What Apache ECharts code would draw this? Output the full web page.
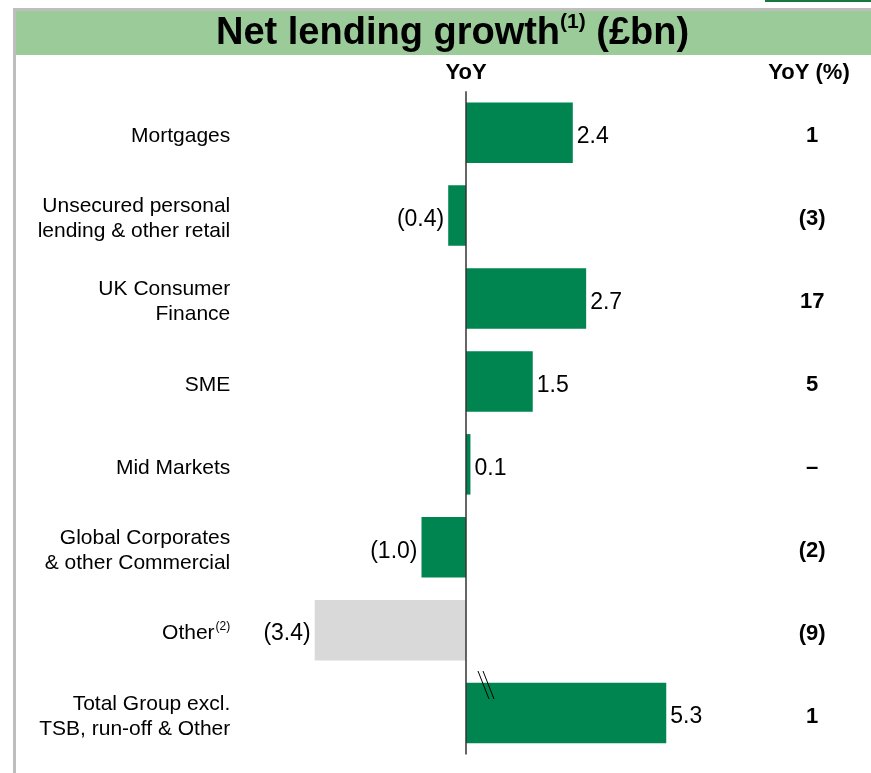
<!DOCTYPE html>
<html>
<head>
<meta charset="utf-8">
<script src="https://cdn.jsdelivr.net/npm/echarts@6/dist/echarts.min.js"></script>
<style>
html,body{margin:0;padding:0;background:#fff}
#chart{width:871px;height:773px}
</style>
</head>
<body>
<div id="chart"></div>
<script>
// data
var categories = ['Mortgages', 'Unsecured personal\nlending & other retail', 'UK Consumer\nFinance', 'SME',
    'Mid Markets', 'Global Corporates\n& other Commercial', 'Other', 'Total Group excl.\nTSB, run-off & Other'];
var yoyValues = [2.4, -0.4, 2.7, 1.5, 0.1, -1.0, -3.4, 5.3];
var yoyPct = ['1', '(3)', '17', '5', '–', '(2)', '(9)', '1'];
var greyCats = ['Other'];

var FONT = '"Liberation Sans", Arial, sans-serif';
var GREEN = '#008551';

var barData = [];
for (var i = 0; i < yoyValues.length; i++) {
    var v = yoyValues[i];
    barData.push({
        value: v,
        itemStyle: {color: greyCats.indexOf(categories[i]) >= 0 ? '#D9D9D9' : GREEN},
        label: {position: v < 0 ? 'left' : 'right'}
    });
}

var chart = echarts.init(document.getElementById('chart'));
chart.setOption({
    animation: false,
    grid: {left: 310.25, right: 195.85, top: 91.25, bottom: 18.5},
    xAxis: {
        type: 'value',
        min: -3.5,
        max: 5.5,
        breaks: [{start: 3, end: 3.8, gap: 0}],
        breakArea: {show: false},
        axisLine: {show: false},
        axisTick: {show: false},
        axisLabel: {show: false},
        splitLine: {show: false}
    },
    yAxis: [{
        type: 'category',
        inverse: true,
        data: categories,
        axisLine: {show: false, onZero: false},
        axisTick: {show: false},
        axisLabel: {
            margin: 80,
            color: '#000',
            fontFamily: FONT,
            fontSize: 21,
            lineHeight: 25,
            padding: [7, 0, 0, 0],
            formatter: function (val) {
                if (val === 'Other') return '{a|Other}{s|(2)}';
                return val;
            },
            rich: {
                a: {fontFamily: FONT, fontSize: 21, lineHeight: 25, color: '#000'},
                s: {fontFamily: FONT, fontSize: 12, lineHeight: 25, verticalAlign: 'top', padding: [0, 0, 8, 1], color: '#000'}
            }
        }
    }, {
        type: 'category',
        inverse: true,
        position: 'right',
        data: yoyPct,
        axisLine: {show: false, onZero: false},
        axisTick: {show: false},
        axisLabel: {
            margin: 137,
            align: 'center',
            formatter: function (val) {
                return '{v|' + val + '}';
            },
            rich: {
                v: {fontFamily: FONT, fontWeight: 'bold', fontSize: 22, lineHeight: 26, padding: [7, 0, 0, 0], color: '#000'}
            }
        }
    }],
    series: [{
        type: 'bar',
        data: barData,
        barCategoryGap: '27%',
        label: {
            show: true,
            distance: 4,
            offset: [0, 4],
            color: '#000',
            fontFamily: FONT,
            fontSize: 23,
            formatter: function (p) {
                var n = p.value;
                return n < 0 ? '(' + Math.abs(n).toFixed(1) + ')' : n.toFixed(1);
            }
        },
        markLine: {
            silent: true,
            symbol: 'none',
            label: {show: false},
            lineStyle: {color: '#333', width: 1.5, type: 'solid'},
            data: [{xAxis: 0}]
        }
    }],
    graphic: [
        {type: 'rect', shape: {x: 765, y: 0, width: 106, height: 2}, style: {fill: '#17773F'}},
        {type: 'rect', shape: {x: 13, y: 8, width: 858, height: 3}, style: {fill: '#BEBEBE'}},
        {type: 'rect', shape: {x: 13, y: 8, width: 3, height: 765}, style: {fill: '#BEBEBE'}},
        {type: 'rect', shape: {x: 16, y: 11, width: 855, height: 44}, style: {fill: '#9BCB98'}},
        {
            type: 'text', x: 216, y: 34,
            style: {
                text: '{a|Net lending growth}{s|(1)}{a| (£bn)}',
                textAlign: 'left', textVerticalAlign: 'middle',
                rich: {
                    a: {fontFamily: FONT, fontWeight: 'bold', fontSize: 38, lineHeight: 44, fill: '#000'},
                    s: {fontFamily: FONT, fontWeight: 'bold', fontSize: 21, lineHeight: 44, verticalAlign: 'top', padding: [0, 0, 14, 0], fill: '#000'}
                }
            }
        },
        {
            type: 'text', x: 466, y: 73,
            style: {text: 'YoY', font: 'bold 22px ' + FONT, fill: '#000', textAlign: 'center', textVerticalAlign: 'middle'}
        },
        {
            type: 'text', x: 809, y: 73,
            style: {text: 'YoY (%)', font: 'bold 22px ' + FONT, fill: '#000', textAlign: 'center', textVerticalAlign: 'middle'}
        },
        // axis break marks on the total bar
        {type: 'line', shape: {x1: 478, y1: 671, x2: 489, y2: 699}, style: {stroke: '#000', lineWidth: 1}, z: 100},
        {type: 'line', shape: {x1: 483, y1: 671, x2: 494, y2: 699}, style: {stroke: '#000', lineWidth: 1}, z: 100}
    ]
});
</script>
</body>
</html>
